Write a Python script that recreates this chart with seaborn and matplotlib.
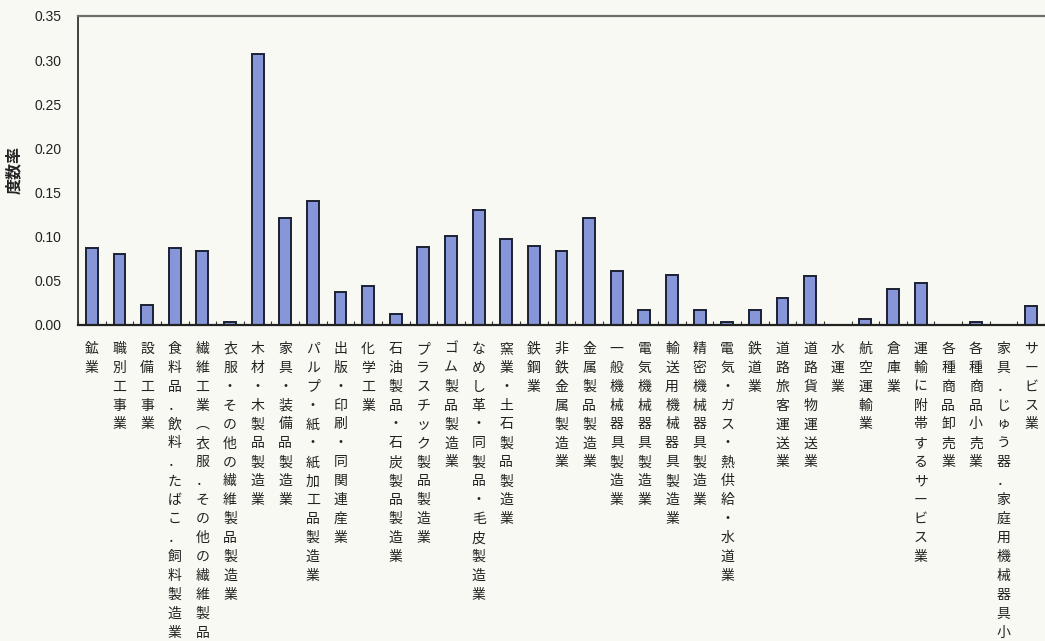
import numpy as np
import matplotlib
matplotlib.use("Agg")
import matplotlib.pyplot as plt
import seaborn as sns

# Industries (accident frequency rate by industry)
industries = [
    "鉱業", "職別工事業", "設備工事業", "食料品．飲料．たばこ．飼料製造業",
    "繊維工業︵衣服．その他の繊維製品を除く︶", "衣服・その他の繊維製品製造業",
    "木材・木製品製造業", "家具・装備品製造業", "パルプ・紙・紙加工品製造業",
    "出版・印刷・同関連産業", "化学工業", "石油製品・石炭製品製造業",
    "プラスチック製品製造業", "ゴム製品製造業", "なめし革・同製品・毛皮製造業",
    "窯業・土石製品製造業", "鉄鋼業", "非鉄金属製造業", "金属製品製造業",
    "一般機械器具製造業", "電気機械器具製造業", "輸送用機械器具製造業",
    "精密機械器具製造業", "電気・ガス・熱供給・水道業", "鉄道業",
    "道路旅客運送業", "道路貨物運送業", "水運業", "航空運輸業", "倉庫業",
    "運輸に附帯するサービス業", "各種商品卸売業", "各種商品小売業",
    "家具．じゅう器．家庭用機械器具小売業", "サービス業",
]
frequency_rate = [
    0.087, 0.080, 0.023, 0.087, 0.084, 0.003, 0.307, 0.121, 0.141, 0.037,
    0.044, 0.013, 0.088, 0.101, 0.130, 0.097, 0.090, 0.084, 0.121, 0.061,
    0.017, 0.057, 0.017, 0.003, 0.017, 0.031, 0.055, 0.000, 0.007, 0.041,
    0.048, 0.000, 0.003, 0.000, 0.021,
]
y_ticks = [0.00, 0.05, 0.10, 0.15, 0.20, 0.25, 0.30, 0.35]
y_label = "度数率"

paper = "#f9f9f3"
sns.set_theme(style="white")
plt.rcParams["font.family"] = ["Noto Sans CJK JP", "DejaVu Sans"]

fig = plt.figure(figsize=(10.45, 6.41), dpi=100, facecolor=paper)
ax = fig.add_axes([78 / 1045, 1 - 325 / 641, (1045 - 78) / 1045, (325 - 16) / 641])
ax.set_facecolor(paper)

positions = np.arange(len(industries))
sns.barplot(x=positions, y=frequency_rate, color="#8796d8", saturation=1,
            width=0.43, edgecolor="#1b2133", linewidth=1.4, ax=ax,
            native_scale=True)

ax.set_xlim(-0.5, len(industries) - 0.5)
ax.set_ylim(0, 0.35)
ax.set_yticks(y_ticks)
ax.set_yticklabels([f"{v:.2f}" for v in y_ticks], family="Liberation Sans",
                   fontsize=10, color="#222222")
ax.set_xticks(positions)
ax.set_xticklabels(["\n".join(name) for name in industries], rotation=0,
                   va="top", ha="center", fontsize=10, linespacing=1.45,
                   color="#222222")
ax.set_xticks(np.arange(-0.5, len(industries), 1.0), minor=True)
ax.tick_params(axis="x", which="major", length=0, pad=12)
ax.tick_params(axis="x", which="minor", direction="in", length=3, width=0.8,
               bottom=True, color="#333333")
ax.tick_params(axis="y", length=0, pad=12)
ax.set_xlabel("")
ax.set_ylabel(y_label, fontsize=11.5, fontweight="bold", color="#222222",
              labelpad=9)

ax.spines["right"].set_visible(False)
ax.spines["top"].set_color("#6e6e6e")
ax.spines["top"].set_linewidth(1.6)
ax.spines["left"].set_color("#222222")
ax.spines["left"].set_linewidth(1.2)
ax.spines["bottom"].set_color("#222222")
ax.spines["bottom"].set_linewidth(1.6)
ax.grid(False)

fig.savefig("out.png", dpi=100, facecolor=paper)
